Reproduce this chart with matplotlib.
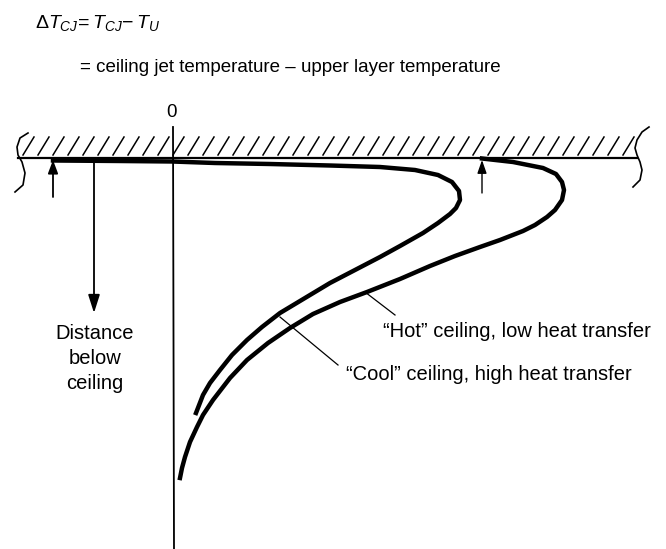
import numpy as np
import matplotlib
matplotlib.use("Agg")
import matplotlib.pyplot as plt

plt.rcParams["font.family"] = ["Liberation Sans", "DejaVu Sans"]
plt.rcParams["mathtext.fontset"] = "custom"
plt.rcParams["mathtext.rm"] = "Liberation Sans"
plt.rcParams["mathtext.it"] = "Liberation Sans:italic"

# x = temperature difference (0 at the vertical axis), y = distance below ceiling
# "Cool" ceiling, high heat transfer
cool_dT = [-120, -53, -1, 42, 97, 157, 207, 242, 265, 279, 286, 287, 283, 277,
           265, 250, 227, 207, 182, 157, 132, 107, 89, 74, 59, 47, 37, 30, 23]
cool_depth = [2.5, 3, 3.5, 5, 6, 7.5, 9, 12, 17, 24, 33, 42, 50, 56,
              65, 75, 88, 99, 112, 125, 140, 155, 169, 182, 197, 212, 225, 237, 255]

# "Hot" ceiling, low heat transfer
hot_dT = [309, 340, 370, 383, 389, 391, 389, 382, 374, 362, 350, 327, 307, 282,
          257, 227, 194, 167, 140, 117, 95, 74, 57, 40, 30, 24, 17, 12, 9, 7]
hot_depth = [0.5, 4, 10, 16, 24, 32, 42, 52, 59, 67, 73, 82, 89, 98,
             108, 121, 134, 144, 156, 170, 185, 202, 220, 242, 257, 269, 284, 299, 310, 320]

hot_label = "\u201cHot\u201d ceiling, low heat transfer"
cool_label = "\u201cCool\u201d ceiling, high heat transfer"

fig = plt.figure(figsize=(6.66, 5.49), dpi=100)
ax = fig.add_axes([0, 0, 1, 1])
ax.set_xlim(-173, 493)
ax.set_ylim(391, -158)
ax.axis("off")

# ceiling with hatching
ax.plot([-155, 464], [0, 0], color="k", lw=1.6)
for x0 in np.arange(-150, 455, 15):
    ax.plot([x0, x0 + 11], [-3, -21], color="k", lw=1.1)

# broken-edge squiggles
ax.plot([-145, -153, -156, -155, -151, -148, -150, -158],
        [-25, -20, -11, -3, 4, 15, 27, 34], color="k", lw=1.2)
ax.plot([476, 469, 464, 462, 464, 467, 469, 467, 460],
        [-31, -26, -18, -10, -3, 4, 12, 22, 29], color="k", lw=1.2)

# zero axis
ax.plot([0, 1], [-31, 391], color="k", lw=1.3)
ax.text(-1, -41, "0", ha="center", va="baseline", fontsize=13.5)

# curves
ax.plot(cool_dT, cool_depth, color="k", lw=3.2, solid_joinstyle="round")
ax.plot(hot_dT, hot_depth, color="k", lw=3.2, solid_joinstyle="round")

# arrows
ax.annotate("", xy=(-120, 2), xytext=(-120, 39),
            arrowprops=dict(arrowstyle="-|>,head_length=0.8,head_width=0.3",
                            color="k", lw=1.3, shrinkA=0, shrinkB=0))
ax.annotate("", xy=(309, 2), xytext=(309, 35),
            arrowprops=dict(arrowstyle="-|>,head_length=0.8,head_width=0.28",
                            color="k", lw=1.0, shrinkA=0, shrinkB=0))
ax.annotate("", xy=(-79, 155), xytext=(-79, 2),
            arrowprops=dict(arrowstyle="-|>,head_length=1.1,head_width=0.35",
                            color="k", lw=1.3, shrinkA=0, shrinkB=0))

ax.text(-78, 166, "Distance\nbelow\nceiling", ha="center", va="top",
        fontsize=14.5, linespacing=1.4)

# leader lines and labels
ax.plot([192, 222], [134, 157], color="k", lw=0.9)
ax.plot([107, 165], [159, 207], color="k", lw=0.9)
ax.text(210, 179, hot_label, ha="left", va="baseline", fontsize=14.5)
ax.text(173, 222, cool_label, ha="left", va="baseline", fontsize=14.5)

# definition text
ax.text(-138, -130, r"$\Delta T_{CJ}\!= T_{CJ}\! - T_U$", ha="left", va="baseline",
        fontsize=14)
ax.text(-93, -86, "= ceiling jet temperature \u2013 upper layer temperature",
        ha="left", va="baseline", fontsize=13.5)

fig.savefig("out.png", dpi=100)
